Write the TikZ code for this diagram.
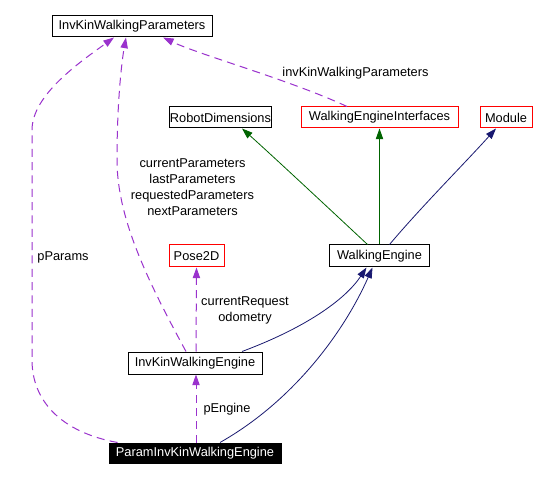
\documentclass[tikz,border=0pt]{standalone}
\usepackage{fontspec}
\setmainfont{Liberation Sans}
\usetikzlibrary{arrows.meta,calc}
\definecolor{usage}{HTML}{9A32CD}
\definecolor{prot}{HTML}{006400}
\definecolor{pub}{HTML}{191970}
\tikzset{
  cls/.style={draw=black, line width=0.75pt, inner sep=0pt, minimum height=15.75pt, font=\fontsize{9.6}{12}\selectfont},
  redcls/.style={cls, draw=red},
  cur/.style={cls, fill=black, text=white},
  tip/.style={-{Triangle[length=8pt,width=5.5pt]}},
  usedge/.style={tip, draw=usage, line width=0.75pt, dash pattern=on 6pt off 4pt},
  protedge/.style={tip, draw=prot, line width=0.6pt},
  pubedge/.style={tip, draw=pub, line width=0.6pt},
  lbl/.style={font=\fontsize{9.6}{12}\selectfont, align=center, inner sep=0pt},
}
\begin{document}
\begin{tikzpicture}[x=0.75pt,y=-0.75pt]
\useasboundingbox (0,0) rectangle (536,481);
\fill[white] (0,0) rectangle (536,481);
% nodes
\node[cls, minimum width=120pt] (ikwp) at (132,26.5) {InvKinWalkingParameters};
\node[cls, minimum width=74.25pt] (rd) at (220.5,117.5) {RobotDimensions};
\node[redcls, minimum width=117.75pt] (wei) at (379.5,117.5) {WalkingEngineInterfaces};
\node[redcls, minimum width=39pt] (md) at (506,117.5) {Module};
\node[cls, minimum width=75pt, minimum height=16.5pt] (we) at (379.5,256) {WalkingEngine};
\node[redcls, minimum width=41.25pt, minimum height=16.5pt] (pose) at (196.5,256) {Pose2D};
\node[cls, minimum width=100.5pt, minimum height=16.5pt] (ikwe) at (195,363) {InvKinWalkingEngine};
\node[cur, minimum width=129pt, minimum height=15pt] (pikwe) at (195,453) {ParamInvKinWalkingEngine};
% inheritance edges
\draw[protedge] ($(we.north)+(-12,0)$) .. controls (352,230) and (275,158) .. ($(rd.south)+(21.5,0)$);
\draw[protedge] (we.north) -- (wei.south);
\draw[pubedge] ($(we.north)+(10,0)$) .. controls (422,206) and (465,163) .. ($(md.south)+(-10,0)$);
\draw[pubedge] ($(ikwe.north)+(47,0)$) .. controls (305,328) and (345,300) .. ($(we.south)+(-13,0)$);
\draw[pubedge] ($(pikwe.north)+(25,0)$) .. controls (295,400) and (345,330) .. ($(we.south)+(-7,0)$);
% usage edges
\draw[usedge] ($(ikwe.north)+(1,0)$) -- (pose.south);
\node[lbl] (lcr) at (245,310) {currentRequest\\odometry};
\draw[usedge] ($(pikwe.north)+(1,0)$) -- ($(ikwe.south)+(1,0)$);
\node[lbl] (lpe) at (227,409) {pEngine};
\draw[usedge] ($(wei.north)+(-32.5,0)$) .. controls (290,80) and (200,55) .. ($(ikwp.south)+(31,0)$);
\node[lbl] (lik) at (355.5,73) {invKinWalkingParameters};
\draw[usedge] ($(ikwe.north)+(-9,0)$) .. controls (150,285) and (117,220) .. (117,160) .. controls (117,100) and (122,60) .. ($(ikwp.south)+(-6,0)$);
\node[lbl] (lcp) at (192.5,187) {currentParameters\\lastParameters\\requestedParameters\\nextParameters};
\draw[usedge] ($(pikwe.north west)+(9,0)$) .. controls (60,432) and (32,400) .. (32,360) -- (32,130) .. controls (32,95) and (80,62) .. ($(ikwp.south)+(-18,0)$);
\node[lbl] (lpp) at (63,257) {pParams};
\end{tikzpicture}
\end{document}
